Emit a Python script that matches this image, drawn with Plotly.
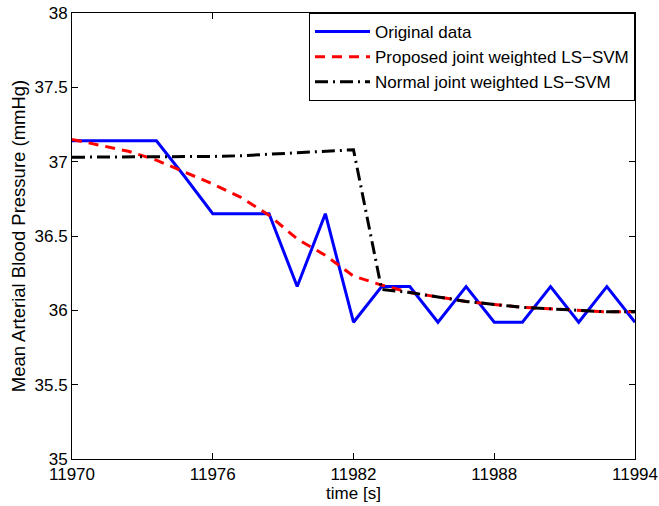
import plotly.graph_objects as go

time = [11970 + 1.2 * k for k in range(21)]
original = [37.14, 37.14, 37.14, 37.14, 36.90, 36.65, 36.65, 36.65, 36.16, 36.65,
            35.92, 36.16, 36.16, 35.92, 36.16, 35.92, 35.92, 36.16, 35.92, 36.16, 35.92]
proposed = [37.15, 37.11, 37.07, 37.01, 36.93, 36.85, 36.76, 36.64, 36.48, 36.37,
            36.23, 36.17, 36.12, 36.09, 36.06, 36.04, 36.02, 36.01, 36.00, 35.99, 35.99]
normal = [37.03, 37.03, 37.03, 37.03, 37.03, 37.035, 37.04, 37.05, 37.06, 37.07,
          37.08, 36.14, 36.12, 36.09, 36.06, 36.04, 36.02, 36.01, 36.00, 35.99, 35.99]

xticks = [11970, 11976, 11982, 11988, 11994]
yticks = [35, 35.5, 36, 36.5, 37, 37.5, 38]
ytext = ["35", "35.5", "36", "36.5", "37", "37.5", "38"]

fig = go.Figure()
fig.add_trace(go.Scatter(x=time, y=original, mode="lines", name="Original data",
                         line=dict(color="#0000ff", width=3)))
fig.add_trace(go.Scatter(x=time, y=proposed, mode="lines", name="Proposed joint weighted LS\u2212SVM",
                         line=dict(color="#ff0000", width=3, dash="10px,7px")))
fig.add_trace(go.Scatter(x=time, y=normal, mode="lines", name="Normal joint weighted LS\u2212SVM",
                         line=dict(color="#000000", width=3, dash="13px,5px,2px,5px")))

fam = "Liberation Sans, Arial, sans-serif"
font = dict(family=fam, size=17, color="black")
fig.update_layout(
    width=659, height=506,
    margin=dict(l=72, r=24, t=13, b=47),
    paper_bgcolor="white", plot_bgcolor="white",
    font=font,
    showlegend=True,
    legend=dict(x=1, y=1, xanchor="right", yanchor="top",
                bordercolor="black", borderwidth=1, bgcolor="white",
                font=dict(family=fam, size=17, color="black"),
                tracegroupgap=0, itemwidth=55),
    xaxis=dict(range=[11970, 11994], tickvals=xticks, ticktext=[str(v) for v in xticks],
               ticks="inside", ticklen=6, tickcolor="black", showline=True, linecolor="black",
               linewidth=1, mirror="ticks", showgrid=False, zeroline=False, automargin=False,
               tickfont=dict(family=fam, size=17),
               title=dict(text="time [s]", standoff=2, font=dict(family=fam, size=17))),
    yaxis=dict(range=[35, 38], tickvals=yticks, ticktext=ytext,
               ticks="inside", ticklen=6, tickcolor="black", showline=True, linecolor="black",
               linewidth=1, mirror="ticks", showgrid=False, zeroline=False, automargin=False,
               tickfont=dict(family=fam, size=17),
               title=dict(text="Mean Arterial Blood Pressure (mmHg)", standoff=4,
                          font=dict(family=fam, size=18.5))),
)
fig.write_html("out.html")
